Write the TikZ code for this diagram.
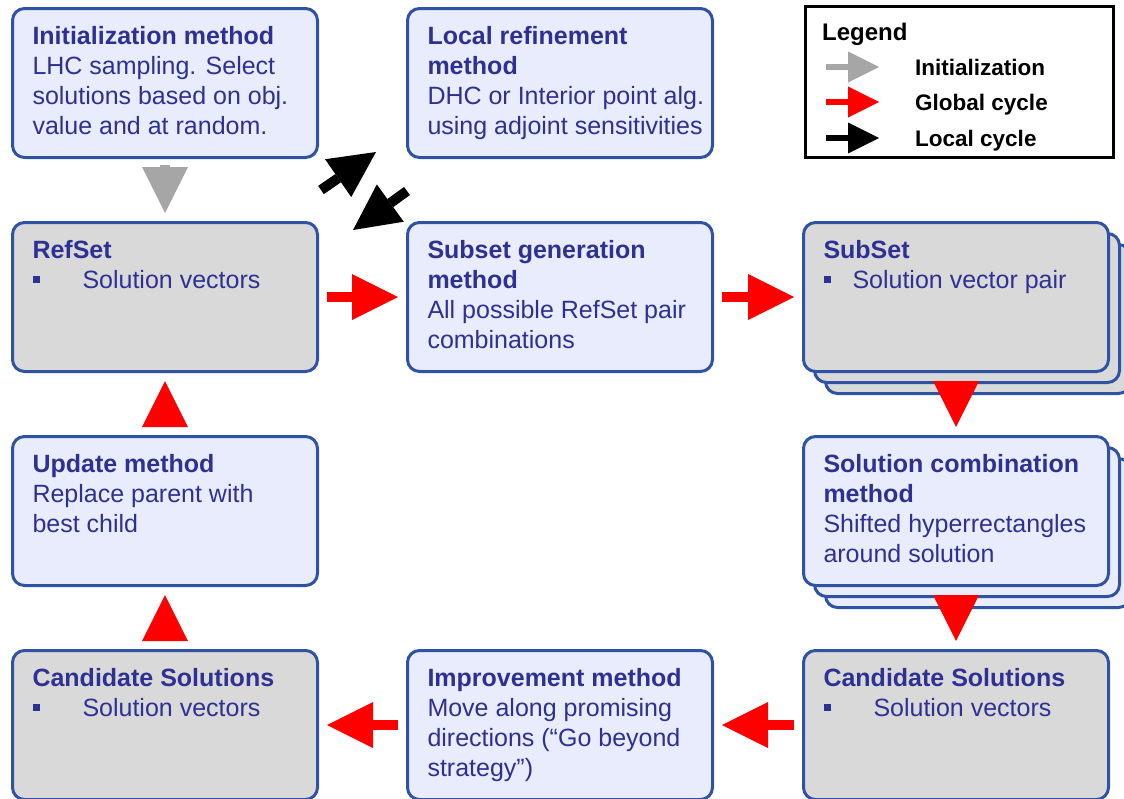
\documentclass[tikz,border=0pt]{standalone}
\usepackage{fontspec}
\setmainfont{Liberation Sans}
\usetikzlibrary{arrows.meta,shadows}

\definecolor{boxline}{RGB}{47,82,162}
\definecolor{boxfill}{RGB}{232,236,252}
\definecolor{setfill}{RGB}{217,217,217}
\definecolor{boxtext}{RGB}{46,49,146}
\definecolor{initgray}{RGB}{166,166,166}

\newcommand{\boxcontent}[2]{\parbox[c][119pt][t]{265pt}{\raggedright\strut\textbf{#1}\\#2}}
\newcommand{\sqitem}[2]{\raisebox{6pt}{\rule{7pt}{7pt}}\hspace{#1}#2}

\begin{document}
\begin{tikzpicture}[x=1pt, y=-1pt,
	methodbox/.style={draw=boxline, line width=3pt, rounded corners=12pt, fill=boxfill, text=boxtext,
		inner xsep=20pt, inner ysep=15pt, minimum width=305pt, minimum height=149pt, anchor=north west,
		font=\fontsize{25pt}{30pt}\selectfont},
	setbox/.style={methodbox, fill=setfill},
	stacked/.style={copy shadow={shadow xshift=22pt, shadow yshift=-22pt}, copy shadow={shadow xshift=11pt, shadow yshift=-11pt}},
	blockarrow/.style={line width=10pt, -{Triangle[length=46pt, width=46pt, line width=0pt]}},
	globalarrow/.style={blockarrow, red, shorten <=8pt, shorten >=8pt},
	initarrow/.style={blockarrow, initgray, shorten <=6pt, shorten >=8pt},
	localarrow/.style={blockarrow, black},
	legtext/.style={inner sep=0pt, anchor=west, text height=16pt, text depth=0pt, font=\fontsize{22.5pt}{27pt}\selectfont\bfseries},
	legarrow/.style={line width=6pt, -{Triangle[length=31pt, width=31pt, line width=0pt]}}
]
\useasboundingbox (0,0) rectangle (1124,798);

\node[methodbox] (init) at (11,7) {\boxcontent{Initialization method}{LHC sampling. Select\\solutions based on obj.\\value and at random.}};
\node[methodbox] (localref) at (406,7) {\boxcontent{Local refinement\\method}{\mbox{DHC or Interior point alg.}\\\mbox{using adjoint sensitivities}}};
\node[setbox] (refset) at (11,221) {\boxcontent{RefSet}{\sqitem{43pt}{Solution vectors}}};
\node[methodbox] (subgen) at (406,221) {\boxcontent{Subset generation\\method}{All possible RefSet pair\\combinations}};
\node[setbox, stacked] (subset) at (802,221) {\boxcontent{SubSet}{\sqitem{22pt}{Solution vector pair}}};
\node[methodbox, stacked] (solcomb) at (802,435) {\boxcontent{Solution combination\\method}{Shifted hyperrectangles\\around solution}};
\node[methodbox] (update) at (11,435) {\boxcontent{Update method}{Replace parent with\\best child}};
\node[setbox] (candl) at (11,649) {\boxcontent{Candidate Solutions}{\sqitem{43pt}{Solution vectors}}};
\node[methodbox] (improv) at (406,649) {\boxcontent{Improvement method}{Move along promising\\directions (“Go beyond\\strategy”)}};
\node[setbox] (candr) at (802,649) {\boxcontent{Candidate Solutions}{\sqitem{43pt}{Solution vectors}}};

\draw[initarrow] (init) -- (refset);

\foreach \u \v in {
refset/subgen%
,subgen/subset%
,subset/solcomb%
,solcomb/candr%
,candr/improv%
,improv/candl%
,candl/update%
,update/refset%
}{
	\draw[globalarrow] (\u) -- (\v);
}

\draw[localarrow] ([xshift=2pt, yshift=31pt]refset.north east) -- ([xshift=-30pt, yshift=7pt]localref.south west);
\draw[localarrow] ([xshift=1pt, yshift=-32pt]localref.south west) -- ([xshift=34pt, yshift=-9pt]refset.north east);

\node[draw=black, line width=3pt, anchor=north west, minimum width=308pt, minimum height=151pt] (legend) at (804,5) {};
\node[legtext, text height=17pt, font=\fontsize{24pt}{29pt}\selectfont\bfseries] (legtitle) at (822,31.5) {Legend};
\foreach \name/\y/\col/\txt in {leginit/67/initgray/Initialization, legglobal/102/red/Global cycle, leglocal/138/black/Local cycle}{
	\node[legtext] (\name) at (915,\y) {\txt};
	\draw[legarrow, \col] ([xshift=-89pt]\name.west) -- ([xshift=-36pt]\name.west);
}

\end{tikzpicture}
\end{document}
